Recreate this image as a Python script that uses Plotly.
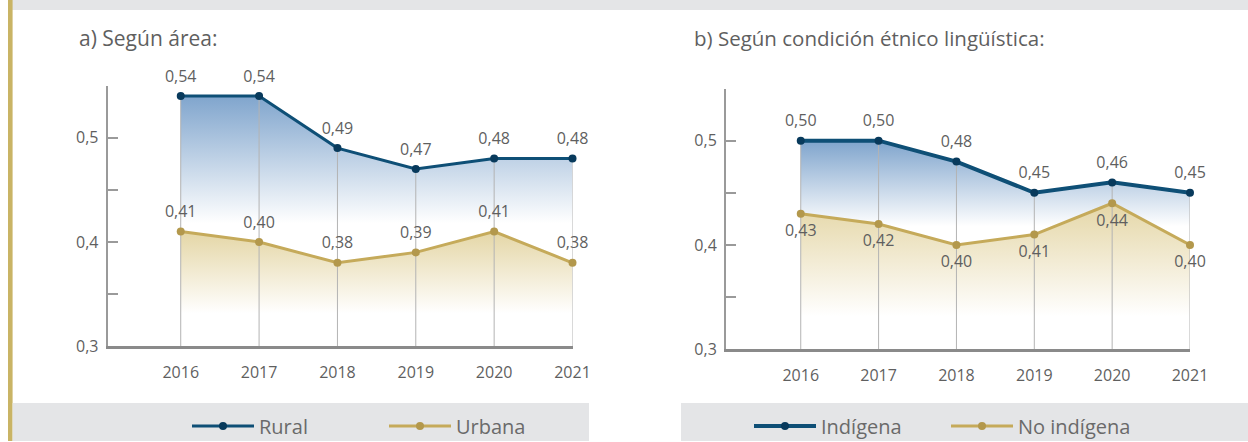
import plotly.graph_objects as go

years = [2016, 2017, 2018, 2019, 2020, 2021]
year_labels = ["2016", "2017", "2018", "2019", "2020", "2021"]

rural = [0.54, 0.54, 0.49, 0.47, 0.48, 0.48]
urbana = [0.41, 0.40, 0.38, 0.39, 0.41, 0.38]
indigena = [0.50, 0.50, 0.48, 0.45, 0.46, 0.45]
no_indigena = [0.43, 0.42, 0.40, 0.41, 0.44, 0.40]

y_tickvals = [0.3, 0.35, 0.4, 0.45, 0.5, 0.55]
y_ticktext = ["0,3", "", "0,4", "", "0,5", ""]

title_a = "a) Según área:"
title_b = "b) Según condición étnico lingüística:"

REF_W, REF_H = 1248, 442      # layout grid the positions below are measured on
W, H = 1266, 452              # figure size (captured area is slightly larger than the window)
FONT = "Open Sans"
TXT = "#5f5f5f"
BLUE_LINE = "#0e4f76"
BLUE_MK = "#083a5c"
GOLD_LINE = "#c5aa5a"
GOLD_MK = "#b3984c"
BLUE_FILL = "rgb(128,165,205)"
GOLD_FILL = "rgb(229,215,168)"
Y_BASE = 0.3


def fmt(v):
    return f"{v:.2f}".replace(".", ",")


fig = go.Figure()


def add_panel(xa, ya, top, bottom, top_name, bot_name, top_w, bot_w,
              top_white, bot_white, bot_pos, legend):
    fig.add_trace(go.Scatter(
        x=years, y=top, xaxis=xa, yaxis=ya, mode="lines", line=dict(width=0),
        fill="tozeroy", fillgradient=dict(type="vertical",
                                          colorscale=[[0, "rgb(255,255,255)"], [1, BLUE_FILL]],
                                          start=top_white, stop=max(top)),
        showlegend=False, hoverinfo="skip"))
    fig.add_trace(go.Scatter(
        x=years, y=bottom, xaxis=xa, yaxis=ya, mode="lines", line=dict(width=0),
        fill="tozeroy", fillgradient=dict(type="vertical",
                                          colorscale=[[0, "rgb(255,255,255)"], [1, GOLD_FILL]],
                                          start=bot_white, stop=max(bottom)),
        showlegend=False, hoverinfo="skip"))
    dx, dy = [], []
    for x, v in zip(years, top):
        dx += [x, x, None]
        dy += [Y_BASE, v, None]
    fig.add_trace(go.Scatter(x=dx, y=dy, xaxis=xa, yaxis=ya, mode="lines",
                             line=dict(color="#b3b3b3", width=1),
                             showlegend=False, hoverinfo="skip"))
    fig.add_trace(go.Scatter(
        x=years, y=bottom, xaxis=xa, yaxis=ya, mode="lines+markers", name=bot_name,
        line=dict(color=GOLD_LINE, width=bot_w),
        marker=dict(color=GOLD_MK, size=8), cliponaxis=False, legend=legend,
        legendrank=2))
    fig.add_trace(go.Scatter(
        x=years, y=top, xaxis=xa, yaxis=ya, mode="lines+markers", name=top_name,
        line=dict(color=BLUE_LINE, width=top_w),
        marker=dict(color=BLUE_MK, size=8), cliponaxis=False, legend=legend,
        legendrank=1))
    fig.add_trace(go.Scatter(
        x=years, y=top, xaxis=xa, yaxis=ya, mode="markers+text",
        text=[fmt(v) for v in top], textposition="top center",
        textfont=dict(family=FONT, size=16, color=TXT),
        marker=dict(size=15, color="rgba(0,0,0,0)"), cliponaxis=False,
        showlegend=False, hoverinfo="skip"))
    fig.add_trace(go.Scatter(
        x=years, y=bottom, xaxis=xa, yaxis=ya, mode="markers+text",
        text=[fmt(v) for v in bottom], textposition=bot_pos,
        textfont=dict(family=FONT, size=16, color=TXT),
        marker=dict(size=15, color="rgba(0,0,0,0)"),
        cliponaxis=False, showlegend=False, hoverinfo="skip"))


add_panel("x", "y", rural, urbana, "Rural", "Urbana", 3, 3, 0.42, 0.335,
          "top center", "legend")
add_panel("x2", "y2", indigena, no_indigena, "Indígena", "No indígena", 4, 3,
          0.42, 0.335, "bottom center", "legend2")


def px_x(p):
    return p / REF_W


def px_y(p):
    return 1 - p / REF_H


yax = dict(range=[0.3, 0.55], tickvals=y_tickvals, ticktext=y_ticktext,
           showline=True, linecolor="#9a9a9a", linewidth=2,
           ticks="inside", ticklen=10, tickwidth=2, tickcolor="#9a9a9a",
           showgrid=False, zeroline=False, ticklabelstandoff=4,
           tickfont=dict(family=FONT, size=16, color=TXT), fixedrange=True)
xax = dict(tickvals=years, ticktext=year_labels,
           showline=True, linecolor="#8a8a8a", linewidth=2.5, ticks="",
           showgrid=False, zeroline=False, ticklabelstandoff=10,
           tickfont=dict(family=FONT, size=16, color=TXT), fixedrange=True)

leg = dict(orientation="h", xanchor="left", yanchor="middle",
           bgcolor="rgba(0,0,0,0)", font=dict(family=FONT, size=20, color="#6a6a6a"),
           itemwidth=62, entrywidth=120, traceorder="normal")

fig.update_layout(
    width=W, height=H,
    margin=dict(l=0, r=0, t=0, b=0),
    paper_bgcolor="white", plot_bgcolor="rgba(0,0,0,0)",
    font=dict(family=FONT, color=TXT),
    xaxis=dict(xax, range=[2015.068, 2021], domain=[px_x(107.7), px_x(572.5)], anchor="y"),
    yaxis=dict(yax, domain=[px_y(347), px_y(85.75)], anchor="x"),
    xaxis2=dict(xax, range=[2015.04, 2021], domain=[px_x(726), px_x(1190)], anchor="y2"),
    yaxis2=dict(yax, domain=[px_y(350), px_y(88.75)], anchor="x2"),
    legend=dict(leg, x=px_x(187), y=px_y(427)),
    legend2=dict(leg, x=px_x(749), y=px_y(427)),
    showlegend=True,
    shapes=[
        dict(type="rect", xref="paper", yref="paper", x0=px_x(12), x1=1, y0=px_y(10), y1=1,
             fillcolor="#e4e5e7", line=dict(width=0), layer="below"),
        dict(type="rect", xref="paper", yref="paper", x0=px_x(8), x1=px_x(12.6), y0=0, y1=1,
             fillcolor="#c9b465", line=dict(width=0), layer="below"),
        dict(type="rect", xref="paper", yref="paper", x0=px_x(12.6), x1=px_x(589), y0=0,
             y1=px_y(404), fillcolor="#e4e5e7", line=dict(width=0), layer="below"),
        dict(type="rect", xref="paper", yref="paper", x0=px_x(681), x1=1, y0=0,
             y1=px_y(404), fillcolor="#e4e5e7", line=dict(width=0), layer="below"),
    ],
    annotations=[
        dict(text=title_a, xref="paper", yref="paper", x=px_x(77), y=px_y(38),
             xanchor="left", yanchor="middle", showarrow=False,
             font=dict(family=FONT, size=21, color=TXT)),
        dict(text=title_b, xref="paper", yref="paper", x=px_x(692), y=px_y(38),
             xanchor="left", yanchor="middle", showarrow=False,
             font=dict(family=FONT, size=20.5, color=TXT)),
    ],
)

POST = "document.body.style.margin='0';document.documentElement.style.margin='0';"

fig.write_html("out.html", config={"displayModeBar": False}, post_script=POST)
